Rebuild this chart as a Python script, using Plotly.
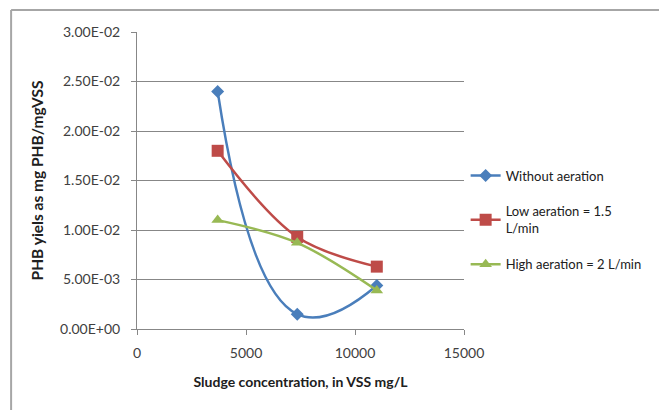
import plotly.graph_objects as go

x_vals = [3700, 7350, 11000]
without_aeration = [0.0240, 0.0015, 0.0044]
low_aeration = [0.0180, 0.0093, 0.0063]
high_aeration = [0.0110, 0.0087, 0.0039]

series_names = ["Without aeration", "Low aeration = 1.5<br>L/min", "High aeration = 2 L/min"]
y_tickvals = [0, 0.005, 0.01, 0.015, 0.02, 0.025, 0.03]
y_ticktext = ["0.00E+00", "5.00E-03", "1.00E-02", "1.50E-02", "2.00E-02", "2.50E-02", "3.00E-02"]
x_tickvals = [0, 5000, 10000, 15000]
x_ticktext = ["0", "5000", "10000", "15000"]

colors = ["#4A7EBB", "#BE4B48", "#98B954"]
symbols = ["diamond", "square", "triangle-up"]
sizes = [10, 12, 11]
data = [without_aeration, low_aeration, high_aeration]

fig = go.Figure()
for i in range(3):
    fig.add_trace(go.Scatter(
        x=x_vals, y=data[i], name=series_names[i], mode="lines+markers",
        line=dict(color=colors[i], width=2.5, shape="spline", smoothing=1.3 if i == 0 else 1),
        marker=dict(symbol=symbols[i], size=sizes[i], color=colors[i]),
        legendgroup="g%d" % i,
    ))

font_family = "Lato, 'Open Sans', sans-serif"
fig.update_layout(
    width=659, height=410,
    margin=dict(l=137, r=192, t=32, b=81),
    paper_bgcolor="white", plot_bgcolor="white",
    font=dict(family=font_family, size=14, color="#404040"),
    showlegend=True,
    legend=dict(x=1.005, y=0.367, xanchor="left", yanchor="middle",
                font=dict(size=13, color="#202020"), tracegroupgap=16,
                itemwidth=30, bgcolor="rgba(0,0,0,0)"),
    xaxis=dict(range=[0, 15000], tickvals=x_tickvals, ticktext=x_ticktext, showgrid=False,
               zeroline=False, showline=True, linecolor="#878787", linewidth=1,
               ticks="outside", ticklen=5, tickcolor="#878787", automargin=False,
               tickfont=dict(size=14, color="#404040"), ticklabelstandoff=6,
               title=dict(text="<b>Sludge concentration, in VSS mg/L</b>",
                          font=dict(size=14, color="#202020"), standoff=17)),
    yaxis=dict(range=[0, 0.03], tickvals=y_tickvals, ticktext=y_ticktext,
               showgrid=True, gridcolor="#878787", gridwidth=1,
               zeroline=False, showline=True, linecolor="#878787", linewidth=1,
               ticks="outside", ticklen=5, tickcolor="#878787", automargin=False,
               tickfont=dict(size=14, color="#404040"), ticklabelstandoff=8,
               title=dict(text="<b>PHB yiels as mg PHB/mgVSS</b>",
                          font=dict(size=15.5, color="#202020"), standoff=12)),
    shapes=[
        dict(type="line", xref="paper", yref="paper", x0=-0.385, x1=1.6, y0=1.074, y1=1.074,
             line=dict(color="#A6A6A6", width=2)),
        dict(type="line", xref="paper", yref="paper", x0=-0.385, x1=-0.385, y0=1.074, y1=-0.3,
             line=dict(color="#A6A6A6", width=2)),
    ],
)

fig.write_html("out.html", config={"displayModeBar": False},
               post_script="document.body.style.margin='0';document.body.style.overflow='hidden';")
